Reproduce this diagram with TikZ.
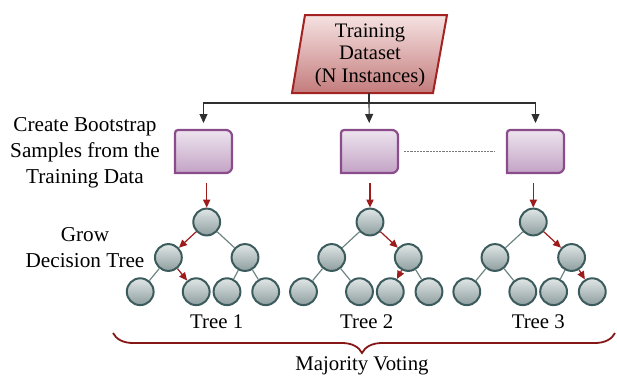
\documentclass[tikz,border=0pt]{standalone}
\usepackage{fontspec}
\setmainfont{Liberation Serif}
\usetikzlibrary{arrows.meta,decorations.pathreplacing,calc}
\definecolor{dsborder}{HTML}{A32222}
\definecolor{dstop}{HTML}{F6E2E2}
\definecolor{dsbot}{HTML}{C47C7C}
\definecolor{bxborder}{HTML}{8A4C8A}
\definecolor{bxtop}{HTML}{EDE4EE}
\definecolor{bxbot}{HTML}{C3A3C5}
\definecolor{cborder}{HTML}{3C5B5D}
\definecolor{ctop}{HTML}{E0E6E6}
\definecolor{cbot}{HTML}{8E9E9F}
\definecolor{gedgec}{HTML}{6E8585}
\definecolor{redc}{HTML}{9E1B1B}
\definecolor{linec}{HTML}{303030}
\definecolor{dotc}{HTML}{7A7A7A}
\newcommand\mktree[2]{%
  \node[tnode] (#1r) at (#2,222) {};
  \node[tnode] (#1a) at ({#2-38.3},257.5) {};
  \node[tnode] (#1b) at ({#2+38.3},257.5) {};
  \node[tnode] (#1c) at ({#2-66.5},291.7) {};
  \node[tnode] (#1d) at ({#2-10.5},291.7) {};
  \node[tnode] (#1e) at ({#2+20.3},291.7) {};
  \node[tnode] (#1f) at ({#2+59},291.7) {};
}
\begin{document}
\begin{tikzpicture}[x=0.5pt,y=-0.5pt,
  dsshape/.style={draw=dsborder,line width=1pt,top color=dstop,bottom color=dsbot},
  bxframe/.style={minimum width=28.5pt,minimum height=21.5pt,inner sep=0pt,outer sep=0pt},
  bxshade/.style={draw=bxborder,line width=1.1pt,top color=bxtop,bottom color=bxbot},
  tnode/.style={circle,draw=cborder,line width=1pt,top color=ctop,bottom color=cbot,minimum size=13.4pt,inner sep=0pt},
  gedge/.style={draw=gedgec,line width=0.6pt},
  redarr/.style={draw=redc,line width=0.6pt,-{Triangle[length=4pt,width=3.6pt]}},
  blkarr/.style={draw=linec,line width=0.55pt,-{Triangle[length=4.5pt,width=4pt]}},
  lbl/.style={font=\fontsize{10.6}{13}\selectfont,align=center,inner sep=0pt},
  tlbl/.style={font=\fontsize{10.4}{12}\selectfont,inner sep=0pt}
]
\useasboundingbox (0,0) rectangle (617,376);

% training dataset parallelogram
\path[dsshape] (305,15) -- (447,15) -- (433,93) -- (292,93) -- cycle;
\node[font=\fontsize{10.3}{11.3}\selectfont,align=center,inner sep=0pt] (ds) at (370,55) {Training\\Dataset\\(N Instances)};
\coordinate (dsb) at (369,93);
\coordinate (hub) at (369,103);

% bootstrap boxes
\node[bxframe] (b1) at (203.5,151.5) {};
\node[bxframe] (b2) at (369.5,151.5) {};
\node[bxframe] (b3) at (535.5,151.5) {};
\foreach \b in {b1,b2,b3}{
  \path[bxshade] (\b.south west) [rounded corners=1.5pt] -- (\b.north west) [rounded corners=3pt] -- (\b.north east) -- (\b.south east) [sharp corners] -- cycle;
}

% connectors from dataset
\draw[draw=linec,line width=0.55pt] (dsb) -- (hub);
\draw[blkarr,shorten >=3.5pt] (hub) -| (b1);
\draw[blkarr,shorten >=3.5pt] (hub) -- (b2);
\draw[blkarr,shorten >=3.5pt] (hub) -| (b3);

% dotted line
\draw[draw=dotc,line width=0.75pt,dash pattern=on 1.1pt off 0.5pt] ($(b2.east)+(6,0)$) -- ($(b3.west)+(-13,0)$);

% trees
\mktree{t1}{206.7}
\mktree{t2}{370}
\mktree{t3}{533.3}

% tree 1 edges
\draw[gedge] (t1r) -- (t1b);
\draw[gedge] (t1a) -- (t1c);
\draw[gedge] (t1b) -- (t1e);
\draw[gedge] (t1b) -- (t1f);
\draw[redarr] (t1r) -- (t1a);
\draw[redarr] (t1a) -- (t1d);
% tree 2 edges
\draw[gedge] (t2r) -- (t2a);
\draw[gedge] (t2a) -- (t2c);
\draw[gedge] (t2a) -- (t2d);
\draw[gedge] (t2b) -- (t2f);
\draw[redarr] (t2r) -- (t2b);
\draw[redarr] (t2b) -- (t2e);
% tree 3 edges
\draw[gedge] (t3r) -- (t3a);
\draw[gedge] (t3a) -- (t3c);
\draw[gedge] (t3a) -- (t3d);
\draw[gedge] (t3b) -- (t3e);
\draw[redarr] (t3r) -- (t3b);
\draw[redarr] (t3b) -- (t3f);

% arrows from boxes to trees
\draw[redarr] (t1r |- b1.south) ++(0,10) -- (t1r);
\draw[redarr] (t2r |- b2.south) ++(0,10) -- (t2r);
\draw[redarr] (t3r |- b3.south) ++(0,10) -- (t3r);

% labels
\node[lbl] (lb1) at (85,153) {Create Bootstrap\\Samples from the\\Training Data};
\node[lbl] (lb2) at (85,248) {Grow\\Decision Tree};
\node[tlbl] (tl1) at (216.7,321.5) {Tree 1};
\node[tlbl] (tl2) at (366.7,321.5) {Tree 2};
\node[tlbl] (tl3) at (538.3,321.5) {Tree 3};

% brace
\coordinate (brL) at (113,333);
\coordinate (brR) at (615,333);
\draw[draw=redc!85!black,line width=0.9pt,decorate,decoration={brace,mirror,amplitude=10pt,aspect=0.496}] (brL) -- (brR);
\node[tlbl] (mv) at (362,366) {Majority Voting};
\end{tikzpicture}
\end{document}
